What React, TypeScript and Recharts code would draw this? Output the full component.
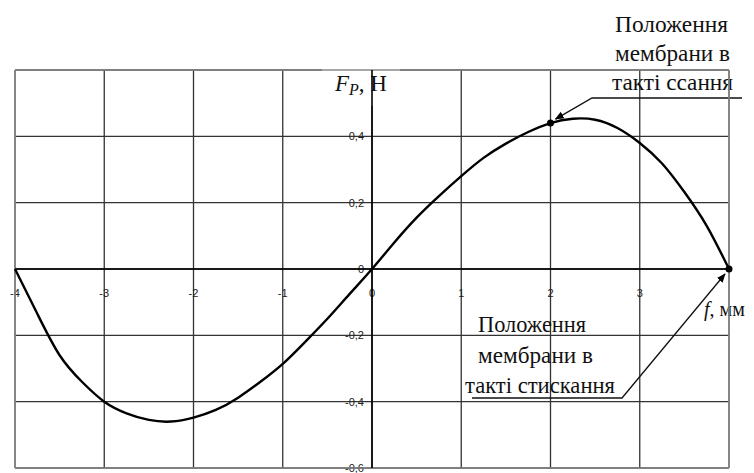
import React from 'react';
import { LineChart, Line, XAxis, YAxis, CartesianGrid, ReferenceLine, ReferenceDot, Customized } from 'recharts';

// прогин мембрани f, мм
const deflection = [
  -4, -3.75, -3.5, -3.25, -3, -2.75, -2.5, -2.25, -2, -1.75, -1.5, -1.25, -1, -0.75, -0.5, -0.25,
  0, 0.25, 0.5, 0.75, 1, 1.25, 1.5, 1.75, 2, 2.25, 2.5, 2.75, 3, 3.25, 3.5, 3.75, 4,
];
// сила Fp, Н
const force = [
  0, -0.135, -0.26, -0.34, -0.4, -0.435, -0.455, -0.46, -0.448, -0.425, -0.388, -0.34, -0.286, -0.22, -0.15, -0.075,
  0, 0.08, 0.155, 0.22, 0.28, 0.335, 0.378, 0.413, 0.44, 0.453, 0.45, 0.425, 0.38, 0.318, 0.232, 0.13, 0,
];

const xTicks = [-4, -3, -2, -1, 0, 1, 2, 3, 4];
const xTickLabels = ['-4', '-3', '-2', '-1', '0', '1', '2', '3', ''];
const yTicks = [-0.6, -0.4, -0.2, 0, 0.2, 0.4, 0.6];
const yTickLabels = ['-0,6', '-0,4', '-0,2', '0', '0,2', '0,4', ''];

const suctionPoint = { x: 2, y: 0.44 };
const compressionPoint = { x: 4, y: 0 };

const suctionText = ['Положення', 'мембрани в', 'такті ссання'];
const compressionText = ['Положення', 'мембрани в', 'такті стискання'];

const W = 754;
const H = 473;
const margin = { top: 70, right: 25, bottom: 5, left: 15 };
const X_MIN = -4, X_MAX = 4, Y_MIN = -0.6, Y_MAX = 0.6;
const plotW = W - margin.left - margin.right;
const plotH = H - margin.top - margin.bottom;
const sx = (v: number) => margin.left + ((v - X_MIN) / (X_MAX - X_MIN)) * plotW;
const sy = (v: number) => margin.top + ((Y_MAX - v) / (Y_MAX - Y_MIN)) * plotH;

const data = deflection.map((x, i) => ({ x, y: force[i] }));

const serif = '"Liberation Serif", "Times New Roman", serif';
const sans = '"Liberation Sans", Arial, sans-serif';

const Annotations = () => {
  const p1x = sx(suctionPoint.x), p1y = sy(suctionPoint.y);
  const p2x = sx(compressionPoint.x), p2y = sy(compressionPoint.y);
  return (
    <g>
      <defs>
        <marker id="arr" viewBox="0 0 10 10" refX="9" refY="5" markerWidth="7" markerHeight="7" orient="auto">
          <path d="M0,1 L10,5 L0,9 z" fill="#000" />
        </marker>
      </defs>
      {/* tick labels along the axes through zero */}
      {xTicks.map((t, i) => (
        <text key={'x' + i} x={sx(t)} y={sy(0) + 28} textAnchor="middle" fontFamily={sans} fontSize={11} fill="#222">
          {xTickLabels[i]}
        </text>
      ))}
      {yTicks.map((t, i) => (
        <text key={'y' + i} x={sx(0) - 8} y={sy(t) + 4} textAnchor="end" fontFamily={sans} fontSize={11} fill="#222">
          {yTickLabels[i]}
        </text>
      ))}

      {/* axis title over the top border */}
      <rect x={322} y={60} width={78} height={46} fill="#fff" />
      <text x={335} y={91} fontFamily={serif} fontSize={23} fill="#111">
        <tspan fontStyle="italic">F</tspan>
        <tspan fontStyle="italic" fontSize={16} dy={4}>P</tspan>
        <tspan dy={-4}>, Н</tspan>
      </text>
      <text x={704} y={316} fontFamily={serif} fontSize={20} fill="#111">
        <tspan fontStyle="italic">f</tspan>
        <tspan>, мм</tspan>
      </text>

      {/* suction stroke */}
      <polyline
        points={`${742},${98} ${592},${98} ${p1x + 5},${p1y - 4}`}
        fill="none"
        stroke="#111"
        strokeWidth={1.3}
        markerEnd="url(#arr)"
      />
      {suctionText.map((t, i) => (
        <text
          key={i}
          x={[615, 615, 612][i]}
          y={32 + i * 29}
          textLength={[113, 115, 121][i]}
          lengthAdjust="spacingAndGlyphs"
          fontFamily={serif}
          fontSize={24}
          fill="#111"
        >
          {t}
        </text>
      ))}

      {/* compression stroke */}
      <polyline
        points={`${472},${398} ${622},${398} ${p2x - 4},${p2y + 5}`}
        fill="none"
        stroke="#111"
        strokeWidth={1.3}
        markerEnd="url(#arr)"
      />
      {compressionText.map((t, i) => (
        <text
          key={i}
          x={[478, 478, 465][i]}
          y={332 + i * 30.5}
          textLength={[108, 115, 150][i]}
          lengthAdjust="spacingAndGlyphs"
          fontFamily={serif}
          fontSize={24}
          fill="#111"
        >
          {t}
        </text>
      ))}
    </g>
  );
};

export default function App() {
  return (
    <div style={{ position: 'absolute', left: 0, top: 0, width: W, height: H, background: '#fff' }}>
      <LineChart width={W} height={H} data={data} margin={margin}>
        <CartesianGrid stroke="#333" strokeWidth={1.3} />
        <XAxis type="number" dataKey="x" domain={[X_MIN, X_MAX]} ticks={xTicks} hide />
        <YAxis type="number" domain={[Y_MIN, Y_MAX]} ticks={yTicks} hide />
        <ReferenceLine y={Y_MAX} stroke="#8a8a8a" strokeWidth={1.6} />
        <ReferenceLine y={Y_MIN} stroke="#8a8a8a" strokeWidth={1.6} />
        <ReferenceLine x={X_MIN} stroke="#8a8a8a" strokeWidth={1.6} />
        <ReferenceLine x={X_MAX} stroke="#8a8a8a" strokeWidth={1.6} />
        <ReferenceLine y={0} stroke="#000" strokeWidth={1.6} />
        <ReferenceLine x={0} stroke="#000" strokeWidth={1.6} />
        <Customized component={<Annotations />} />
        <Line
          type="natural"
          dataKey="y"
          stroke="#000"
          strokeWidth={2.4}
          dot={false}
          isAnimationActive={false}
        />
        <ReferenceDot x={suctionPoint.x} y={suctionPoint.y} r={3.5} fill="#000" stroke="none" />
        <ReferenceDot x={compressionPoint.x} y={compressionPoint.y} r={3.5} fill="#000" stroke="none" />
      </LineChart>
    </div>
  );
}
